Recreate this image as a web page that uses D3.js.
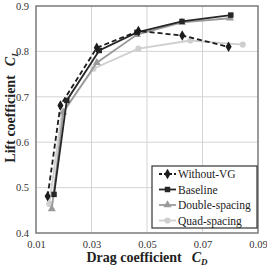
<!DOCTYPE html>
<html>
<head>
<meta charset="utf-8">
<script src="https://cdn.jsdelivr.net/npm/d3@7"></script>
<style>
  body { margin: 0; overflow: hidden; background: #fff; }
  svg text { font-family: "Liberation Serif", "DejaVu Serif", "Times New Roman", serif !important; }
</style>
</head>
<body>
<div id="chart"></div>
<script>
// Size and plot frame
const width = 267;
const height = 268;
const margin = { top: 6, right: 9, bottom: 35, left: 36 };

// Data (drag coefficient, lift coefficient)
const seriesNames = ["Without-VG", "Baseline", "Double-spacing", "Quad-spacing"];
const withoutVgCd = [0.0142, 0.0188, 0.0319, 0.0469, 0.0627, 0.0794];
const withoutVgCl = [0.481, 0.681, 0.808, 0.845, 0.835, 0.810];
const baselineCd = [0.0165, 0.0211, 0.0328, 0.0464, 0.0626, 0.0802];
const baselineCl = [0.485, 0.692, 0.802, 0.842, 0.866, 0.880];
const doubleCd = [0.0157, 0.0198, 0.0319, 0.0464, 0.0626, 0.0799];
const doubleCl = [0.453, 0.666, 0.775, 0.837, 0.864, 0.873];
const quadCd = [0.0148, 0.0193, 0.0307, 0.0469, 0.0656, 0.0845];
const quadCl = [0.464, 0.663, 0.762, 0.806, 0.824, 0.815];

const xTicks = [0.01, 0.03, 0.05, 0.07, 0.09];
const yTicks = [0.4, 0.5, 0.6, 0.7, 0.8, 0.9];

// Styles per series
const colors = ["#1c1c1c", "#262626", "#9a9a9a", "#cfcfcf"];
const dashes = ["5,3", null, null, null];
const symbols = [d3.symbolDiamond, d3.symbolSquare, d3.symbolTriangle, d3.symbolCircle];
const symbolSizes = [32, 30, 28, 30];

const series = [
  { cd: withoutVgCd, cl: withoutVgCl },
  { cd: baselineCd, cl: baselineCl },
  { cd: doubleCd, cl: doubleCl },
  { cd: quadCd, cl: quadCl }
].map((s, i) => ({ name: seriesNames[i], points: s.cd.map((c, j) => [c, s.cl[j]]) }));

const svg = d3.select("#chart")
  .append("svg")
  .attr("width", width)
  .attr("height", height);

const x = d3.scaleLinear().domain([0.01, 0.09]).range([margin.left, width - margin.right]);
const y = d3.scaleLinear().domain([0.4, 0.9]).range([height - margin.bottom, margin.top]);

// Gridlines
svg.append("g")
  .selectAll("line")
  .data(xTicks.slice(1, -1))
  .join("line")
  .attr("x1", d => x(d)).attr("x2", d => x(d))
  .attr("y1", y(0.4)).attr("y2", y(0.9))
  .attr("stroke", "#d4d4d4").attr("stroke-width", 1);

svg.append("g")
  .selectAll("line")
  .data(yTicks.slice(1, -1))
  .join("line")
  .attr("x1", x(0.01)).attr("x2", x(0.09))
  .attr("y1", d => y(d)).attr("y2", d => y(d))
  .attr("stroke", "#d4d4d4").attr("stroke-width", 1);

// Frame
svg.append("rect")
  .attr("x", x(0.01)).attr("y", y(0.9))
  .attr("width", x(0.09) - x(0.01))
  .attr("height", y(0.4) - y(0.9))
  .attr("fill", "none")
  .attr("stroke", "#7a7a7a")
  .attr("stroke-width", 1.5);

// Axes (labels only, lines hidden)
const xAxis = svg.append("g")
  .attr("transform", `translate(0,${y(0.4)})`)
  .call(d3.axisBottom(x).tickValues(xTicks).tickFormat(d3.format(".2f")).tickSize(0).tickPadding(8));
const yAxis = svg.append("g")
  .attr("transform", `translate(${x(0.01)},0)`)
  .call(d3.axisLeft(y).tickValues(yTicks).tickFormat(d3.format(".1f")).tickSize(0).tickPadding(7));
[xAxis, yAxis].forEach(g => {
  g.select(".domain").remove();
  g.selectAll("text")
    .style("font-size", "10.5px")
    .attr("fill", "#333");
});

// Lines and markers
const line = d3.line().x(d => x(d[0])).y(d => y(d[1]));

// draw lighter series first so dark ones sit on top
const order = [3, 2, 1, 0];
order.forEach(i => {
  const s = series[i];
  const g = svg.append("g");
  g.append("path")
    .datum(s.points)
    .attr("d", line)
    .attr("fill", "none")
    .attr("stroke", colors[i])
    .attr("stroke-width", 1.8)
    .attr("stroke-dasharray", dashes[i]);
  g.selectAll("path.pt")
    .data(s.points)
    .join("path")
    .attr("class", "pt")
    .attr("transform", d => `translate(${x(d[0])},${y(d[1])})`)
    .attr("d", d3.symbol(symbols[i], symbolSizes[i]))
    .attr("fill", colors[i]);
});

// Legend
const legend = svg.append("g").attr("transform", "translate(152,166)");
legend.append("rect")
  .attr("width", 105).attr("height", 62)
  .attr("fill", "#fff")
  .attr("stroke", "#333")
  .attr("stroke-width", 1.2);

series.forEach((s, i) => {
  const ly = 8 + i * 15.5;
  const row = legend.append("g").attr("transform", `translate(0,${ly})`);
  row.append("line")
    .attr("x1", 7).attr("x2", 24)
    .attr("stroke", colors[i])
    .attr("stroke-width", 1.8)
    .attr("stroke-dasharray", i === 0 ? "3,2" : null);
  row.append("path")
    .attr("transform", "translate(15.5,0)")
    .attr("d", d3.symbol(symbols[i], symbolSizes[i]))
    .attr("fill", colors[i]);
  row.append("text")
    .attr("x", 26)
    .attr("dy", "0.35em")
    .style("font-size", "11.5px")
    .attr("fill", "#222")
    .text(s.name);
});

// Axis titles
const xTitle = svg.append("text")
  .attr("x", 147)
  .attr("y", 262)
  .attr("text-anchor", "middle")
  .style("font-size", "14px")
  .style("font-weight", "bold")
  .attr("fill", "#222");
xTitle.append("tspan").text("Drag coefficient");
xTitle.append("tspan").attr("dx", 10).style("font-style", "italic").text("C");
xTitle.append("tspan").style("font-style", "italic").style("font-size", "9px").attr("dy", 3).text("D");

const yTitle = svg.append("text")
  .attr("transform", "translate(15,107) rotate(-90)")
  .attr("text-anchor", "middle")
  .style("font-size", "14px")
  .style("font-weight", "bold")
  .attr("fill", "#222");
yTitle.append("tspan").text("Lift coefficient");
yTitle.append("tspan").attr("dx", 9).style("font-style", "italic").text("C");
yTitle.append("tspan").style("font-style", "italic").style("font-size", "9px").attr("dy", 3).text("L");
</script>
</body>
</html>
